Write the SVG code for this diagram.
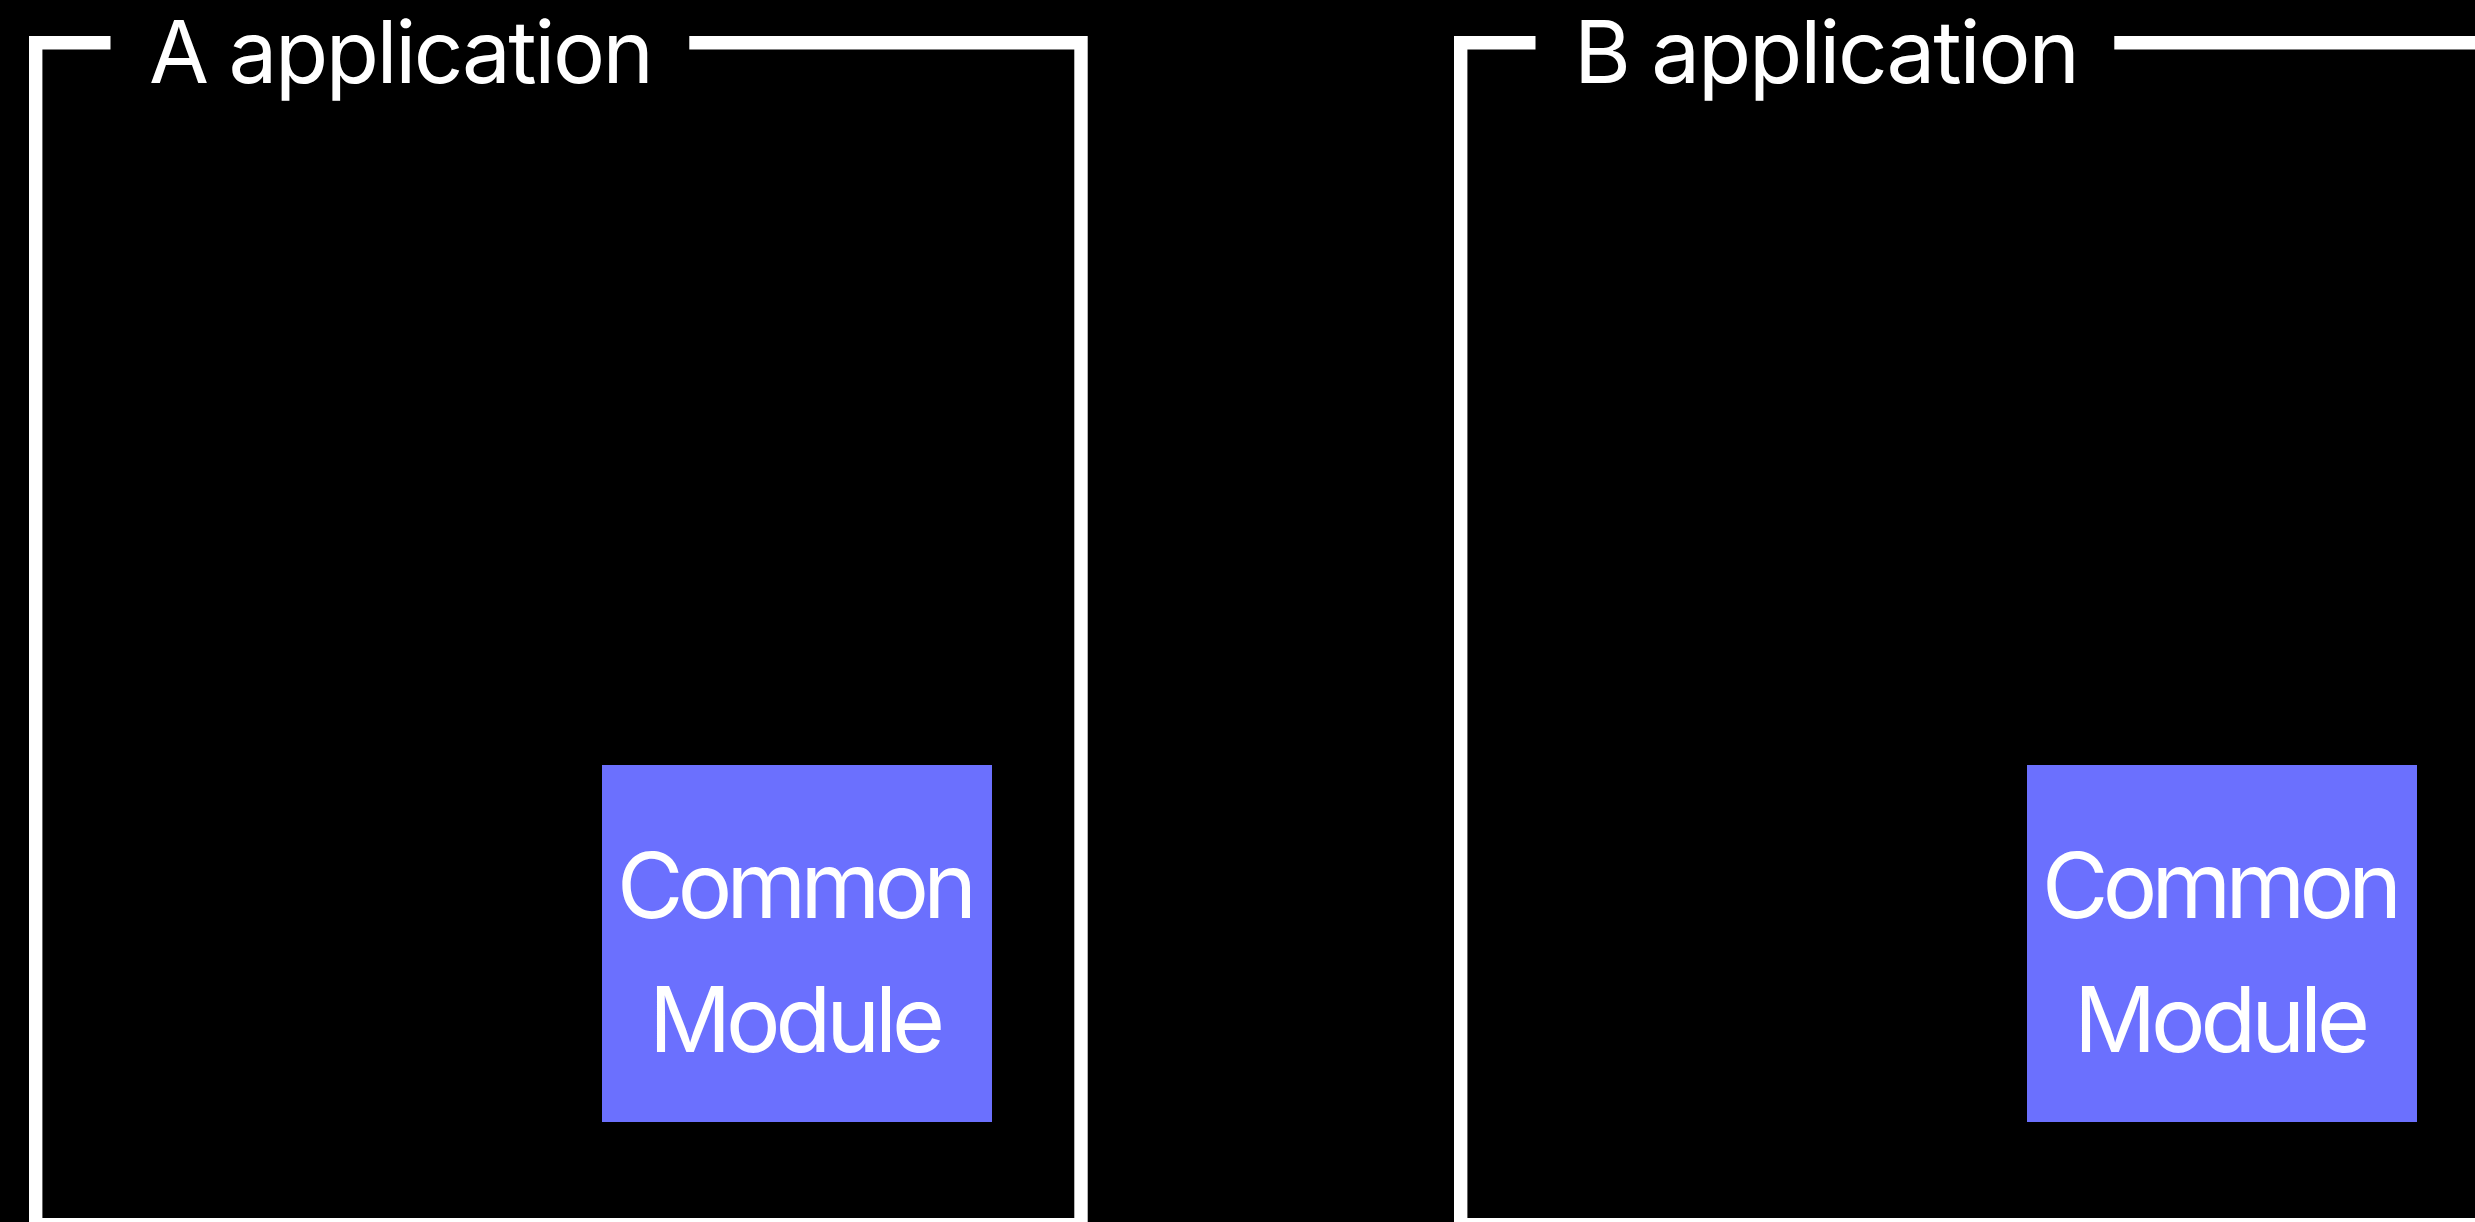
<svg xmlns="http://www.w3.org/2000/svg" width="2475" height="1222" viewBox="0 0 2475 1222">
  <style>
    .frame { fill: none; stroke: #ffffff; stroke-width: 13.4; stroke-linecap: butt; stroke-linejoin: miter; }
    .title { fill: #ffffff; font-family: Inter, "Noto Sans", "Liberation Sans", sans-serif; font-size: 87px; }
    .module rect { fill: #6b70fe; }
    .module text { fill: #ffffff; font-family: Inter, "Noto Sans", "Liberation Sans", sans-serif; font-size: 91px; text-anchor: middle; }
  </style>
  <rect x="0" y="0" width="2475" height="1222" fill="#000000"/>

  <!-- Application A container -->
  <g id="app-a">
    <path class="frame" d="M110.5 42.7 H35.7 V1224.6 H1081 V42.7 H689.3"/>
    <text class="title" x="149" y="83" textLength="505" lengthAdjust="spacing">A application</text>
  </g>
  <g id="module-a" class="module">
    <rect x="602" y="765" width="390" height="357"/>
    <text x="797" y="918" textLength="360" lengthAdjust="spacing">Common</text>
    <text x="797" y="1052" textLength="296" lengthAdjust="spacing">Module</text>
  </g>

  <!-- Application B container -->
  <g id="app-b">
    <path class="frame" d="M1535.5 42.7 H1460.7 V1224.6 H2506 V42.7 H2114.3"/>
    <text class="title" x="1574" y="83" textLength="506" lengthAdjust="spacing">B application</text>
  </g>
  <g id="module-b" class="module">
    <rect x="2027" y="765" width="390" height="357"/>
    <text x="2222" y="918" textLength="360" lengthAdjust="spacing">Common</text>
    <text x="2222" y="1052" textLength="296" lengthAdjust="spacing">Module</text>
  </g>

  <g id="connectors"/>
</svg>
